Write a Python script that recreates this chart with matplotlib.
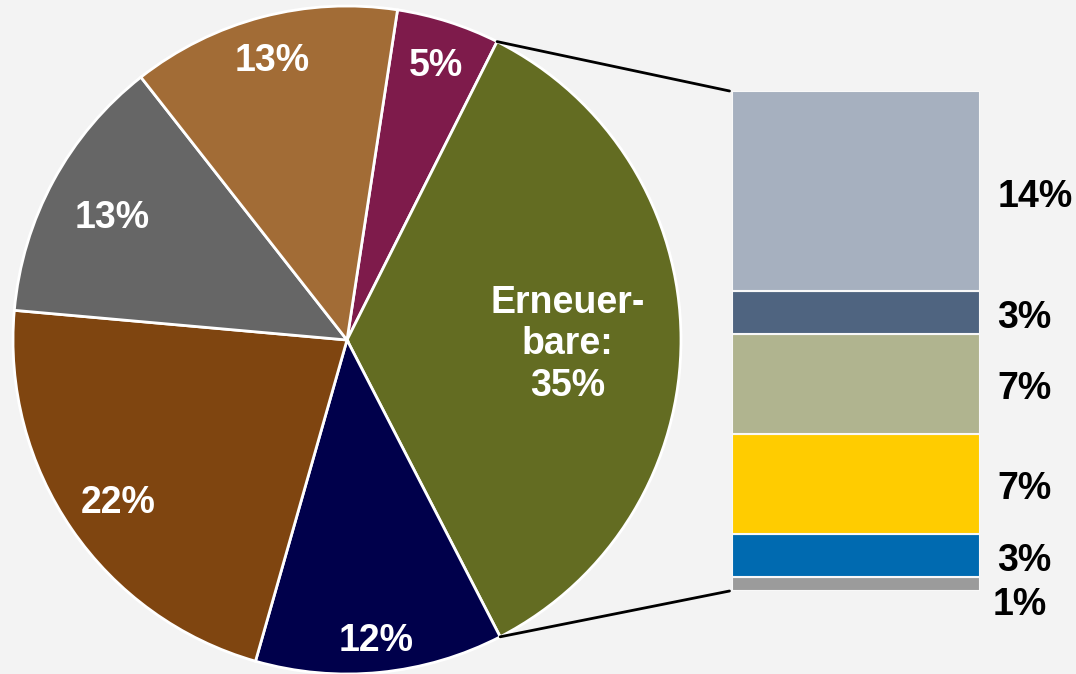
import matplotlib
matplotlib.use('Agg')
import matplotlib.pyplot as plt
from matplotlib.patches import ConnectionPatch
import numpy as np

# Daten Kreisdiagramm (im Uhrzeigersinn ab der lila Scheibe)
pie_werte = [5, 35, 12, 22, 13, 13]
pie_labels = ['5%', 'Erneuer-\nbare:\n35%', '12%', '22%', '13%', '13%']
pie_farben = ['#7e1b4b', '#636c22', '#00004b', '#7f4510', '#666666', '#a26c36']

# Daten Balken (Aufteilung Erneuerbare, von unten nach oben)
bar_werte = [1, 3, 7, 7, 3, 14]
bar_labels = ['1%', '3%', '7%', '7%', '3%', '14%']
bar_farben = ['#9b9b9b', '#006ab0', '#ffcc00', '#b0b48f', '#4f6480', '#a6b0bf']

hg = '#f3f3f3'
plt.rcParams['font.family'] = ['Liberation Sans', 'DejaVu Sans']

fig = plt.figure(figsize=(10.76, 6.74), dpi=100)
fig.patch.set_facecolor(hg)

W, H = 1076, 674
cx, cy, r = 347, 334, 334   # Mittelpunkt (von unten) und Radius in Pixel
ax1 = fig.add_axes([(cx - r) / W, (cy - r) / H, 2 * r / W, 2 * r / H])
ax1.set_facecolor(hg)

start = 81.3
wedges, _ = ax1.pie(pie_werte, colors=pie_farben, startangle=start, counterclock=False,
                    radius=1, wedgeprops=dict(edgecolor='white', linewidth=2))
for w in wedges:
    w.set_clip_on(False)
ax1.set_xlim(-1, 1)
ax1.set_ylim(-1, 1)
ax1.axis('off')

# Beschriftungen in den Scheiben
radien = [0.88, 0.66, 0.89, 0.83, 0.80, 0.88]
for w, lab, rr in zip(wedges, pie_labels, radien):
    mitte = np.deg2rad((w.theta1 + w.theta2) / 2)
    ax1.annotate(lab, (rr * np.cos(mitte), rr * np.sin(mitte)), xytext=(0, -4),
                 textcoords='offset points', ha='center', va='center',
                 color='white', fontsize=27, fontweight='bold', linespacing=1.2,
                 annotation_clip=False)

# Gestapelter Balken
bx0, bx1, by0, by1 = 732, 980, 83, 583
ax2 = fig.add_axes([bx0 / W, by0 / H, (bx1 - bx0) / W, (by1 - by0) / H])
ax2.set_facecolor(hg)
unten = 0
for wert, lab, farbe in zip(bar_werte, bar_labels, bar_farben):
    ax2.bar(0, wert, bottom=unten, width=1, color=farbe, edgecolor='#f8f8f8', linewidth=1.5,
            align='edge')
    y = unten + wert / 2
    dx = 1.07
    if lab == '1%':
        y = unten - 0.6
        dx = 1.05
    ax2.annotate(lab, (dx, y), xytext=(0, -4), textcoords='offset points',
                 ha='left', va='center', fontsize=27, fontweight='bold', color='black',
                 annotation_clip=False)
    unten += wert
ax2.set_xlim(0, 1)
ax2.set_ylim(0, sum(bar_werte))
ax2.axis('off')

# Verbindungslinien
gruen = wedges[1]
for theta, ybar in [(gruen.theta2, sum(bar_werte)), (gruen.theta1, 0)]:
    t = np.deg2rad(theta)
    con = ConnectionPatch(xyA=(np.cos(t), np.sin(t)), coordsA=ax1.transData,
                          xyB=(-0.01, ybar), coordsB=ax2.transData,
                          color='black', linewidth=2)
    fig.add_artist(con)

fig.savefig('out.png', dpi=100, facecolor=hg)
